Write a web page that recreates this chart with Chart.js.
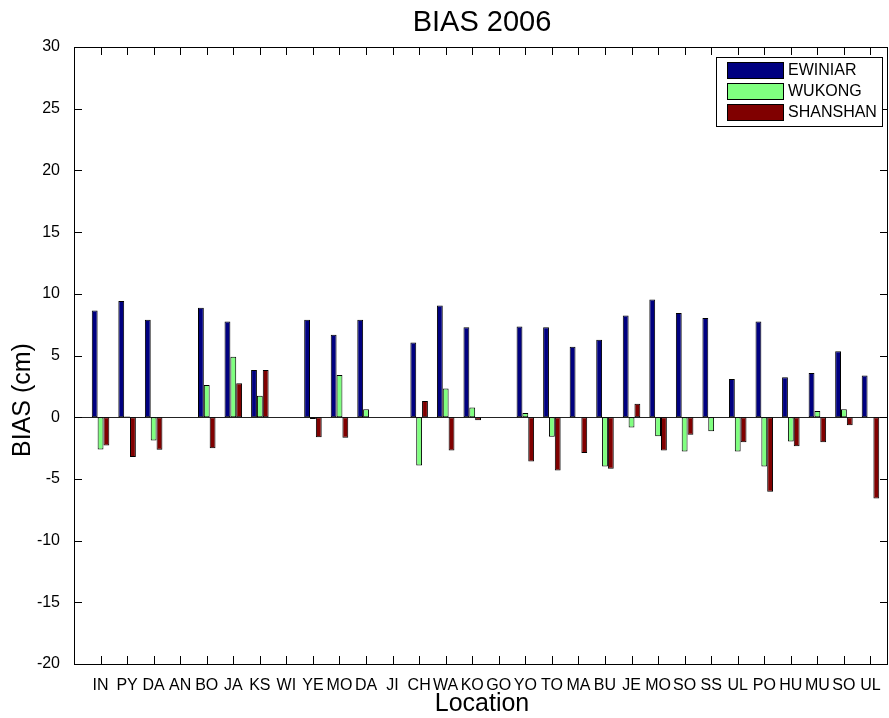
<!DOCTYPE html>
<html>
<head>
<meta charset="utf-8">
<title>BIAS 2006</title>
<script src="https://cdn.jsdelivr.net/npm/chart.js@4.4.1/dist/chart.umd.min.js"></script>
<style>
  html, body { margin: 0; padding: 0; background: #fff; }
  #bias_chart { display: block; }
</style>
</head>
<body>
<canvas id="bias_chart" width="889" height="718"></canvas>
<script>
//station names along the x axis
var locations = ['IN','PY','DA','AN','BO','JA','KS','WI','YE','MO','DA','JI','CH','WA','KO',
                 'GO','YO','TO','MA','BU','JE','MO','SO','SS','UL','PO','HU','MU','SO','UL'];

//bias per station (cm), null where the typhoon has no value
var ewiniar  = [8.65, 9.41, 7.9, null, 8.87, 7.76, 3.83, null, 7.9, 6.68, 7.9, null, 6.06, 9.06, 7.28,
                null, 7.36, 7.28, 5.71, 6.28, 8.25, 9.54, 8.44, 8.03, 3.1, 7.76, 3.23, 3.58, 5.34, 3.37];
var wukong   = [-2.61, 0.05, -1.89, null, 2.61, 4.9, 1.73, null, -0.15, 3.42, 0.65, null, -3.91, 2.32, 0.78,
                null, 0.35, -1.59, null, -3.99, -0.84, -1.54, -2.78, -1.13, -2.78, -3.99, -1.97, 0.51, 0.65, null];
var shanshan = [-2.29, -3.23, -2.64, null, -2.51, 2.75, 3.83, null, -1.62, -1.67, null, null, 1.32, -2.7, -0.24,
                null, -3.58, -4.31, -2.91, -4.18, 1.1, -2.7, -1.43, null, -2.02, -6.04, -2.35, -2.02, -0.65, -6.58];

//y axis tick values
var yTicks = [-20, -15, -10, -5, 0, 5, 10, 15, 20, 25, 30];

var FONT = "'Liberation Sans', Arial, Helvetica, sans-serif";
var TICK_LEN = 8;

//turn a value list into {x, y} points at 1..n so the linear x scale can place them
function toPoints(values)
{
    return values.map(function(v, i){ return {x: i + 1, y: v}; });
}

function makeSet(label, values, color)
{
    return {
        label: label,
        data: toPoints(values),
        backgroundColor: color,
        borderColor: '#000',
        borderWidth: 1,
        borderSkipped: false,
        categoryPercentage: 0.66,
        barPercentage: 1.0
    };
}

//zero baseline under the bars
var baseLinePlugin = {
    id: 'baseLine',
    beforeDatasetsDraw: function(chart){
        var ctx = chart.ctx, area = chart.chartArea;
        var y0 = Math.round(chart.scales.y.getPixelForValue(0)) + 0.5;
        ctx.save();
        ctx.strokeStyle = '#222';
        ctx.lineWidth = 1;
        ctx.beginPath();
        ctx.moveTo(area.left, y0);
        ctx.lineTo(area.right, y0);
        ctx.stroke();
        ctx.restore();
    }
};

//box round the plot with inward ticks on all four sides, title, axis names and legend
var framePlugin = {
    id: 'frame',
    afterDraw: function(chart){
        var ctx = chart.ctx, a = chart.chartArea;
        var xs = chart.scales.x, ys = chart.scales.y;
        ctx.save();
        ctx.strokeStyle = '#000';
        ctx.lineWidth = 1;
        ctx.strokeRect(Math.round(a.left) + 0.5, Math.round(a.top) + 0.5,
                       Math.round(a.right - a.left) - 1, Math.round(a.bottom - a.top));

        ctx.beginPath();
        locations.forEach(function(name, i){
            var px = Math.round(xs.getPixelForValue(i + 1)) + 0.5;
            ctx.moveTo(px, a.bottom); ctx.lineTo(px, a.bottom - TICK_LEN);
            ctx.moveTo(px, a.top);    ctx.lineTo(px, a.top + TICK_LEN);
        });
        yTicks.forEach(function(v){
            var py = Math.round(ys.getPixelForValue(v)) + 0.5;
            ctx.moveTo(a.left, py);  ctx.lineTo(a.left + TICK_LEN, py);
            ctx.moveTo(a.right, py); ctx.lineTo(a.right - TICK_LEN, py);
        });
        ctx.stroke();

        //title and axis names
        ctx.fillStyle = '#000';
        ctx.textAlign = 'center';
        ctx.textBaseline = 'middle';
        ctx.font = '29px ' + FONT;
        ctx.fillText('BIAS 2006', (a.left + a.right) / 2 + 1, 23);
        ctx.font = '25px ' + FONT;
        ctx.fillText('Location', (a.left + a.right) / 2 + 1, 704);
        ctx.save();
        ctx.translate(23, 400);
        ctx.rotate(-Math.PI / 2);
        ctx.fillText('BIAS (cm)', 0, 0);
        ctx.restore();

        //legend box in the top right corner
        var lx = 716, ly = 57, lw = 166, lh = 69;
        ctx.fillStyle = '#fff';
        ctx.fillRect(lx, ly, lw, lh);
        ctx.strokeRect(lx + 0.5, ly + 0.5, lw, lh);
        ctx.font = '16px ' + FONT;
        ctx.textAlign = 'left';
        chart.data.datasets.forEach(function(ds, i){
            var ry = ly + 5 + i * 21;
            ctx.fillStyle = ds.backgroundColor;
            ctx.fillRect(lx + 11, ry, 56, 16);
            ctx.strokeRect(lx + 11.5, ry + 0.5, 56, 16);
            ctx.fillStyle = '#000';
            ctx.fillText(ds.label, lx + 72, ry + 9);
        });
        ctx.restore();
    }
};

var chart = new Chart(document.getElementById('bias_chart'), {
    type: 'bar',
    data: {
        datasets: [
            makeSet('EWINIAR', ewiniar, '#000080'),
            makeSet('WUKONG', wukong, '#80ff80'),
            makeSet('SHANSHAN', shanshan, '#800000')
        ]
    },
    options: {
        responsive: false,
        animation: false,
        layout: { padding: { left: 0, right: 1, top: 47, bottom: 0 } },
        plugins: {
            legend: { display: false },
            title: { display: false },
            tooltip: { enabled: false }
        },
        scales: {
            x: {
                type: 'linear',
                offset: false,
                min: 0,
                max: 30.66,
                grid: { display: false },
                border: { display: false },
                afterBuildTicks: function(scale){
                    scale.ticks = locations.map(function(n, i){ return {value: i + 1}; });
                },
                afterFit: function(scale){ scale.height = 54; },
                ticks: {
                    autoSkip: false,
                    maxRotation: 0,
                    padding: 4,
                    color: '#000',
                    font: { family: FONT, size: 16 },
                    callback: function(v){ return locations[v - 1] || ''; }
                }
            },
            y: {
                min: -20,
                max: 30,
                grid: { display: false },
                border: { display: false },
                afterFit: function(scale){ scale.width = 74; },
                afterBuildTicks: function(scale){
                    scale.ticks = yTicks.map(function(v){ return {value: v}; });
                },
                ticks: {
                    padding: 6,
                    color: '#000',
                    font: { family: FONT, size: 16 }
                }
            }
        }
    },
    plugins: [baseLinePlugin, framePlugin]
});
</script>
</body>
</html>
